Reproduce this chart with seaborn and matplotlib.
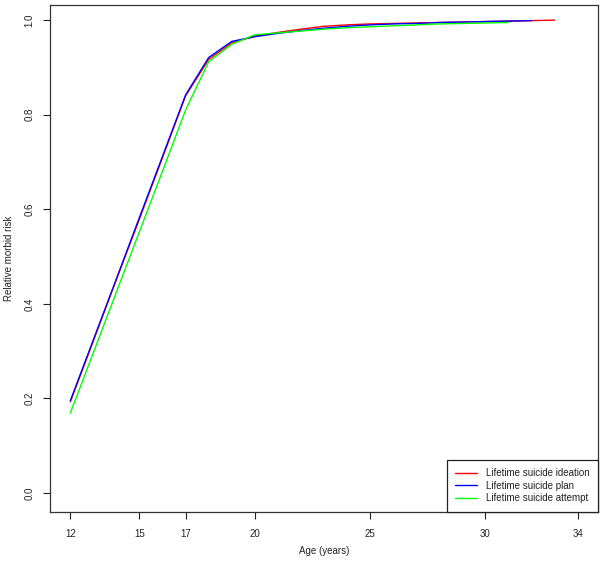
import numpy as np
import pandas as pd
import matplotlib
matplotlib.use("Agg")
import matplotlib.pyplot as plt
import seaborn as sns

# values
ideation_age = list(range(12, 34))
ideation = [0.193, 0.322, 0.452, 0.580, 0.710, 0.840, 0.917, 0.952, 0.966, 0.974, 0.981,
            0.987, 0.990, 0.992, 0.993, 0.994, 0.995, 0.996, 0.997, 0.998, 0.999, 1.000]
plan_age = list(range(12, 33))
plan = [0.195, 0.324, 0.453, 0.583, 0.712, 0.842, 0.921, 0.955, 0.965, 0.972, 0.978,
        0.983, 0.987, 0.990, 0.992, 0.993, 0.995, 0.996, 0.997, 0.998, 0.999]
attempt_age = list(range(12, 32))
attempt = [0.169, 0.297, 0.425, 0.553, 0.681, 0.810, 0.912, 0.949, 0.969, 0.973, 0.977,
           0.981, 0.984, 0.986, 0.988, 0.990, 0.992, 0.993, 0.994, 0.995]

series_names = ["Lifetime suicide ideation", "Lifetime suicide plan", "Lifetime suicide attempt"]
colors = ["#ff0000", "#0000ff", "#00ff00"]
x_ticks = [12, 15, 17, 20, 25, 30, 34]
y_ticks = [0.0, 0.2, 0.4, 0.6, 0.8, 1.0]

df = pd.concat([
    pd.DataFrame({"age": ideation_age, "risk": ideation, "series": series_names[0]}),
    pd.DataFrame({"age": plan_age, "risk": plan, "series": series_names[1]}),
    pd.DataFrame({"age": attempt_age, "risk": attempt, "series": series_names[2]}),
])

sns.set_style("ticks")
plt.rcParams["font.family"] = ["Liberation Sans", "DejaVu Sans"]

fig = plt.figure(figsize=(6.01, 5.65), dpi=100)
ax = fig.add_axes([50 / 601, 53 / 565, 548 / 601, 507 / 565])

sns.lineplot(data=df, x="age", y="risk", hue="series", hue_order=series_names,
             palette=colors, linewidth=1.0, ax=ax, sort=False)

ax.set_xlim(11.12, 34.88)
ax.set_ylim(-0.04, 1.032)
ax.set_xticks(x_ticks)
ax.set_yticks(y_ticks)
ax.set_yticklabels([f"{v:.1f}" for v in y_ticks], rotation=90, va="center")
ax.tick_params(axis="both", labelsize=7, colors="#222222", length=5, width=0.8, direction="out")
ax.tick_params(axis="x", pad=7)
ax.tick_params(axis="y", pad=6)
for s in ax.spines.values():
    s.set_visible(True)
    s.set_color("#333333")
    s.set_linewidth(0.9)

ax.set_xlabel("Age (years)", fontsize=7, color="#222222", labelpad=5)
ax.set_ylabel("Relative morbid risk", fontsize=7, color="#222222", labelpad=8)

leg = ax.legend(loc="lower right", fontsize=7, frameon=True, fancybox=False,
                borderaxespad=0, handlelength=2.2, handletextpad=0.9,
                borderpad=0.9, labelspacing=0.25, title=None)
leg.get_frame().set_edgecolor("#222222")
leg.get_frame().set_linewidth(0.9)
leg.get_frame().set_alpha(1)
for t in leg.get_texts():
    t.set_color("#222222")

fig.savefig("out.png", dpi=100)
